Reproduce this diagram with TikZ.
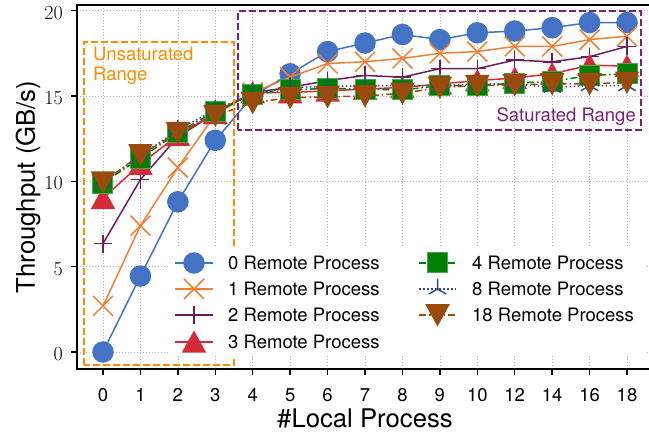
\documentclass[tikz,border=0pt]{standalone}
\usepackage{fontspec}
\newfontfamily\hv{TeX Gyre Heros}
\usetikzlibrary{plotmarks}
\definecolor{cZero}{HTML}{4472C4}
\definecolor{cOne}{HTML}{EF7F33}
\definecolor{cTwo}{HTML}{6B1D5C}
\definecolor{cThree}{HTML}{D42A3A}
\definecolor{cFour}{HTML}{008000}
\definecolor{cEight}{HTML}{2A4A8A}
\definecolor{cEighteen}{HTML}{9B4A0E}
\definecolor{cSat}{HTML}{7B1F7B}
\definecolor{cUns}{HTML}{FF8C00}
\pgfdeclareplotmark{mcross}{%
  \pgfpathmoveto{\pgfqpoint{-\pgfplotmarksize}{-\pgfplotmarksize}}%
  \pgfpathlineto{\pgfqpoint{\pgfplotmarksize}{\pgfplotmarksize}}%
  \pgfpathmoveto{\pgfqpoint{-\pgfplotmarksize}{\pgfplotmarksize}}%
  \pgfpathlineto{\pgfqpoint{\pgfplotmarksize}{-\pgfplotmarksize}}%
  \pgfusepathqstroke}
\pgfdeclareplotmark{mup}{%
  \pgfpathmoveto{\pgfqpoint{0pt}{\pgfplotmarksize}}%
  \pgfpathlineto{\pgfqpoint{-1.1\pgfplotmarksize}{-\pgfplotmarksize}}%
  \pgfpathlineto{\pgfqpoint{1.1\pgfplotmarksize}{-\pgfplotmarksize}}%
  \pgfpathclose\pgfusepathqfillstroke}
\pgfdeclareplotmark{mdown}{%
  \pgfpathmoveto{\pgfqpoint{0pt}{-\pgfplotmarksize}}%
  \pgfpathlineto{\pgfqpoint{-1.1\pgfplotmarksize}{\pgfplotmarksize}}%
  \pgfpathlineto{\pgfqpoint{1.1\pgfplotmarksize}{\pgfplotmarksize}}%
  \pgfpathclose\pgfusepathqfillstroke}
\pgfdeclareplotmark{mstar}{%
  \pgfpathmoveto{\pgfpointorigin}\pgfpathlineto{\pgfqpointpolar{90}{\pgfplotmarksize}}%
  \pgfpathmoveto{\pgfpointorigin}\pgfpathlineto{\pgfqpointpolar{210}{\pgfplotmarksize}}%
  \pgfpathmoveto{\pgfpointorigin}\pgfpathlineto{\pgfqpointpolar{330}{\pgfplotmarksize}}%
  \pgfusepathqstroke}
\tikzset{
  gridline/.style={gray!60, line width=0.7pt, dash pattern=on 1pt off 2pt},
  spine/.style={black, line width=1.5pt},
  sZero/.style={cZero, line width=1.5pt, mark=*, mark size=10pt},
  sOne/.style={cOne, line width=1.5pt, mark=mcross, mark size=10pt},
  sTwo/.style={cTwo, line width=1.5pt, mark=+, mark size=9pt},
  sThree/.style={cThree, line width=1.5pt, mark=mup, mark size=10pt},
  sFour/.style={cFour, line width=1.5pt, dash pattern=on 7pt off 3pt on 1.5pt off 3pt, mark=square*, mark size=10pt, mark options={solid, fill=cFour, draw=cFour!70!white, line width=1pt}},
  sEight/.style={cEight, line width=1.5pt, dash pattern=on 1.5pt off 2.5pt, mark=mstar, mark size=10pt, mark options={solid}},
  sEighteen/.style={cEighteen, line width=1.5pt, dash pattern=on 7pt off 3pt on 1.5pt off 3pt, mark=mdown, mark size=10pt, mark options={solid}},
  legtext/.style={anchor=west, inner sep=0pt, font=\hv\fontsize{18.5}{22}\selectfont},
}
\begin{document}
\begin{tikzpicture}[x=1pt,y=1pt]
\useasboundingbox (-103,-84) rectangle (546,352);
\begin{scope}[x=37.43pt,y=17.07pt]
\foreach \i in {0,...,14} \draw[gridline] (\i,-0.996) -- (\i,20.33);
\foreach \v in {0,5,...,20} \draw[gridline] (-0.695,\v) -- (14.587,\v);
\draw[sZero] plot coordinates {(0,0) (1,4.45) (2,8.8) (3,12.4) (4,15.0) (5,16.3) (6,17.6) (7,18.1) (8,18.6) (9,18.3) (10,18.7) (11,18.8) (12,19.0) (13,19.3) (14,19.3)};
\draw[sOne] plot coordinates {(0,2.7) (1,7.4) (2,10.8) (3,13.9) (4,15.2) (5,16.1) (6,16.9) (7,17.0) (8,17.2) (9,17.5) (10,17.6) (11,17.9) (12,17.9) (13,18.3) (14,18.5)};
\draw[sTwo] plot coordinates {(0,6.35) (1,10.1) (2,12.6) (3,14.0) (4,15.2) (5,15.5) (6,15.9) (7,16.2) (8,16.1) (9,16.6) (10,16.6) (11,17.1) (12,17.0) (13,17.3) (14,17.9)};
\draw[sThree] plot coordinates {(0,9.0) (1,11.0) (2,12.7) (3,14.0) (4,15.2) (5,15.2) (6,15.3) (7,15.4) (8,15.5) (9,15.7) (10,15.9) (11,16.05) (12,16.3) (13,16.8) (14,16.75)};
\draw[sFour] plot coordinates {(0,9.9) (1,11.35) (2,12.85) (3,14.1) (4,15.1) (5,15.35) (6,15.45) (7,15.4) (8,15.35) (9,15.6) (10,15.6) (11,15.75) (12,15.85) (13,16.2) (14,16.3)};
\draw[sEight] plot coordinates {(0,9.95) (1,11.5) (2,13.0) (3,14.2) (4,15.1) (5,15.5) (6,15.55) (7,15.6) (8,15.6) (9,15.6) (10,15.7) (11,15.7) (12,15.5) (13,15.6) (14,15.6)};
\draw[sEighteen] plot coordinates {(0,9.95) (1,11.55) (2,12.85) (3,13.85) (4,14.6) (5,14.9) (6,14.95) (7,15.0) (8,15.15) (9,15.5) (10,15.6) (11,15.65) (12,15.7) (13,15.7) (14,15.8)};
\end{scope}
\draw[cUns, line width=2pt, dash pattern=on 7pt off 3pt] (-19,-13) rectangle (131,310);
\node[anchor=north west, inner sep=0pt, align=left, text=cUns, font=\hv\fontsize{18.5}{19.5}\selectfont] (unsat) at (-10,305) {Unsaturated\\Range};
\draw[cSat, line width=2pt, dash pattern=on 7pt off 3pt] (135,222) rectangle (538,341);
\node[anchor=base east, inner sep=0pt, text=cSat, font=\hv\fontsize{18.5}{22}\selectfont] (sat) at (533,230) {Saturated Range};
\fill[white] (65,-4) rectangle (542,106);
\draw[sZero] plot[mark indices={2}] coordinates {(72,89) (91,89) (110,89)};
\draw[sOne] plot[mark indices={2}] coordinates {(72,63) (91,63) (110,63)};
\draw[sTwo] plot[mark indices={2}] coordinates {(72,37) (91,37) (110,37)};
\draw[sThree] plot[mark indices={2}] coordinates {(72,10) (91,10) (110,10)};
\draw[sFour] plot[mark indices={2}] coordinates {(316,89) (334.5,89) (353,89)};
\draw[sEight] plot[mark indices={2}] coordinates {(316,63) (334.5,63) (353,63)};
\draw[sEighteen] plot[mark indices={2}] coordinates {(316,37) (334.5,37) (353,37)};
\node[legtext] (lzero) at (125,89) {0 Remote Process};
\node[legtext] (lone) at (125,63) {1 Remote Process};
\node[legtext] (ltwo) at (125,37) {2 Remote Process};
\node[legtext] (lthree) at (125,10) {3 Remote Process};
\node[legtext] (lfour) at (369,89) {4 Remote Process};
\node[legtext] (leight) at (369,63) {8 Remote Process};
\node[legtext] (leighteen) at (369,37) {18 Remote Process};
\draw[spine] (546,347) -- (-26,347) -- (-26,-17) -- (546,-17);
\begin{scope}[x=37.43pt,y=17.07pt]
\foreach \i/\l in {0/0,1/1,2/2,3/3,4/4,5/5,6/6,7/7,8/8,9/9,10/10,11/12,12/14,13/16,14/18} {
  \draw[spine] (\i,-0.996) -- ++(0pt,-6pt);
  \node[anchor=base, inner sep=0pt, font=\hv\fontsize{18.5}{22}\selectfont] (xt\i) at (\i,-2.9) {\l};
}
\foreach \v in {0,5,...,20} {
  \draw[spine] (-0.695,\v) -- ++(-6pt,0pt);
  \node[anchor=east, inner sep=0pt, xshift=-14pt, yshift=-2pt, font=\fontsize{20}{24}\selectfont] (yt\v) at (-0.695,\v) {\v};
}
\end{scope}
\node[font=\hv\fontsize{25.7}{30}\selectfont] (xlabel) at (262,-66.5) {\#Local Process};
\node[rotate=90, font=\hv\fontsize{25.7}{30}\selectfont] (ylabel) at (-75,165) {Throughput (GB/s)};
\end{tikzpicture}
\end{document}
